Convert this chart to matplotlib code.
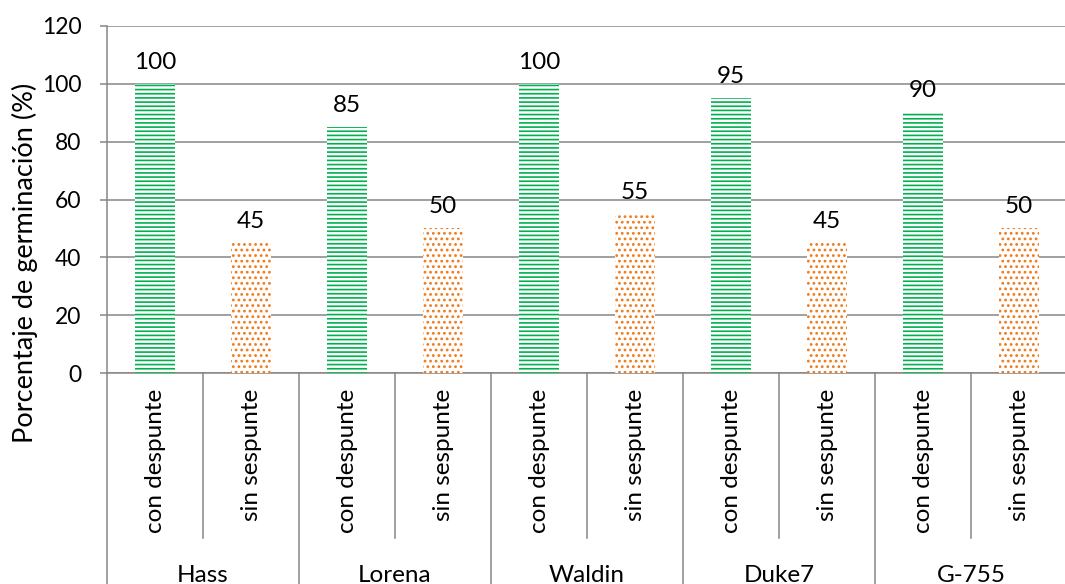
import matplotlib
matplotlib.use("Agg")
import matplotlib.pyplot as plt
import matplotlib.transforms as mtransforms
import numpy as np

# Germination data per avocado variety and treatment
variedades = ["Hass", "Lorena", "Waldin", "Duke7", "G-755"]
tratamientos = ["con despunte", "sin sespunte"]
con_despunte = [100, 85, 100, 95, 90]
sin_despunte = [45, 50, 55, 45, 50]
y_ticks = [0, 20, 40, 60, 80, 100, 120]

plt.rcParams["font.family"] = ["Lato", "DejaVu Sans"]
plt.rcParams["hatch.linewidth"] = 1.2

verde = "#00B050"
naranja = "#EE7A1A"
gris = "#868686"
fs = 17.5

fig = plt.figure(figsize=(10.65, 5.84), dpi=100)
ax = fig.add_axes([107 / 1065, 1 - 373 / 584, 960 / 1065, 347 / 584])

# interleave the two treatments: one slot per bar
valores = []
colores = []
patrones = []
for c, s in zip(con_despunte, sin_despunte):
    valores += [c, s]
    colores += [verde, naranja]
    patrones += ["----", "..."]
x = np.arange(len(valores))

for xi, v, col, hp in zip(x, valores, colores, patrones):
    ax.bar(xi, v, width=0.41, facecolor="white", edgecolor=col,
           hatch=hp, linewidth=0, zorder=3)
    ax.text(xi, v + 3.9, f"{v}", ha="center", va="bottom", fontsize=fs,
            color="black", zorder=4)

ax.set_xlim(-0.5, len(valores) - 0.5)
ax.set_ylim(0, 120)
ax.set_yticks(y_ticks)
ax.tick_params(axis="y", labelsize=16.5, length=5, width=1.1, color=gris,
               direction="out", pad=13.5)
ax.set_xticks([])
ax.grid(axis="y", color=gris, linewidth=1.1, zorder=0)
ax.set_axisbelow(True)

for side in ["top", "right"]:
    ax.spines[side].set_visible(False)
ax.spines["left"].set_color(gris)
ax.spines["left"].set_linewidth(1.1)
ax.spines["bottom"].set_color(gris)
ax.spines["bottom"].set_linewidth(1.1)

# axis title, centred over the plot plus the category area
fig.text(25 / 1065, 1 - 263 / 584, "Porcentaje de germinación (%)",
         rotation=90, ha="center", va="center", fontsize=19.5)

# multi-level category axis: separators and labels below the plot
tr = mtransforms.blended_transform_factory(ax.transData, ax.transAxes)
for i in range(len(valores) + 1):
    xb = i - 0.5
    y_end = -0.62 if i % 2 == 0 else -0.476
    ax.plot([xb, xb], [0, y_end], color=gris, linewidth=1.1,
            transform=tr, clip_on=False)

for xi in x:
    ax.text(xi, -0.045, tratamientos[xi % 2], rotation=90, ha="center",
            va="top", fontsize=fs, transform=tr)

for g, nombre in enumerate(variedades):
    ax.text(2 * g + 0.5, -0.602, nombre, ha="center", va="baseline",
            fontsize=fs, transform=tr)

fig.savefig("out.png", dpi=100)
